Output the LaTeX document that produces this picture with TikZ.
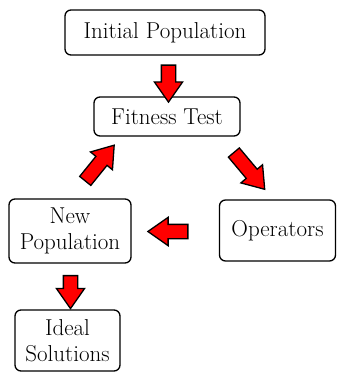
\documentclass[tikz,border=0pt]{standalone}
\usepackage{tikz}
\usetikzlibrary{shapes.arrows, calc}

\tikzset{
    stage/.style={draw, line width=1.3pt, rounded corners=6pt, align=center,
        font=\fontsize{23}{26}\selectfont, inner sep=0pt},
    blockarrow/.style={single arrow, draw, line width=1.3pt, fill=red,
        inner xsep=0pt, inner ysep=6.5pt, single arrow head extend=7pt,
        single arrow tip angle=70, minimum width=27pt}
}

\begin{document}
\begin{tikzpicture}[x=1pt, y=-1pt]
    \useasboundingbox (0,0) rectangle (337,373);

    % the stages
    \node[stage, minimum width=200pt, minimum height=45pt] (init) at (165,32.5) {Initial Population};
    \node[stage, minimum width=146pt, minimum height=39pt] (fit) at (167,116.5) {Fitness Test};
    \node[stage, minimum width=116pt, minimum height=61pt] (ops) at (277.5,230.5) {Operators};
    \node[stage, minimum width=122pt, minimum height=64pt] (newpop) at (70,231) {New\\Population};
    \node[stage, minimum width=105pt, minimum height=61pt] (ideal) at (67.5,340.5) {Ideal\\Solutions};

    % red block arrows between them
    \node[blockarrow, minimum height=37pt, rotate=-90] (initfit) at (168.5,78.5) {};
    \node[blockarrow, minimum height=48pt, rotate=-50] (fitops) at (246,167) {};
    \node[blockarrow, minimum height=40pt, rotate=180] (opsnew) at (173,231.5) {};
    \node[blockarrow, minimum height=46pt, rotate=51] (newfit) at (96.5,167) {};
    \node[blockarrow, minimum height=33pt, rotate=-90] (newideal) at (70.5,287) {};
\end{tikzpicture}
\end{document}
